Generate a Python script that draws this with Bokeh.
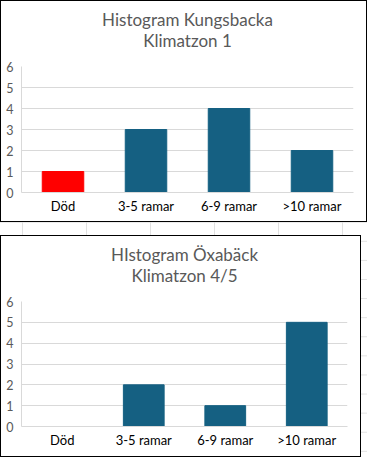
from bokeh.plotting import figure
from bokeh.layouts import column
from bokeh.models import CategoricalAxis, ColumnDataSource, FixedTicker
from bokeh.embed import file_html
from bokeh.resources import INLINE

categories = ["Död", "3-5 ramar", "6-9 ramar", ">10 ramar"]
kungsbacka_values = [1, 3, 4, 2]
oxaback_values = [0, 2, 1, 5]
kungsbacka_colors = ["#FF0000", "#156082", "#156082", "#156082"]
oxaback_colors = ["#156082", "#156082", "#156082", "#156082"]
y_ticks = [0, 1, 2, 3, 4, 5, 6]

FONT = "Lato"
TITLE_COLOR = "#595959"


def title_axis(text, standoff):
    # an axis without ticks whose label serves as one centred title line
    return CategoricalAxis(ticker=FixedTicker(ticks=[]),
                           axis_label=text, axis_label_standoff=standoff,
                           axis_label_text_font=FONT, axis_label_text_font_size="17px",
                           axis_label_text_font_style="normal",
                           axis_label_text_color=TITLE_COLOR,
                           axis_line_color=None, major_tick_line_color=None,
                           minor_tick_line_color=None,
                           major_tick_out=0, major_tick_in=0, minor_tick_out=0,
                           major_label_standoff=0)


def make_chart(line1, line2, values, colors, width, height, left, right, top, bottom):
    p = figure(x_range=categories, y_range=(0, 6), width=width, height=height,
               output_backend="svg", toolbar_location=None,
               min_border_left=left, min_border_right=right, min_border_bottom=bottom,
               min_border_top=top)
    p.title = None
    p.add_layout(title_axis(line2, 16), "above")
    p.add_layout(title_axis(line1, -3), "above")
    src = ColumnDataSource(dict(cat=categories, val=values, col=colors))
    p.vbar(x="cat", top="val", width=0.5, color="col", source=src)
    p.outline_line_color = None
    p.border_fill_color = None
    p.background_fill_color = "white"
    p.xgrid.grid_line_color = None
    p.ygrid.grid_line_color = "#D9D9D9"
    p.yaxis.ticker = FixedTicker(ticks=y_ticks)
    p.yaxis.axis_line_color = "#D9D9D9"
    p.yaxis.major_tick_line_color = None
    p.yaxis.major_tick_out = 0
    p.yaxis.major_tick_in = 0
    p.yaxis.minor_tick_line_color = None
    p.yaxis.major_label_text_color = "#595959"
    p.yaxis.major_label_text_font = FONT
    p.yaxis.major_label_text_font_size = "12.5px"
    p.yaxis.major_label_standoff = 8
    bottom_axis = p.below[0]
    bottom_axis.axis_line_color = "#D9D9D9"
    bottom_axis.major_tick_line_color = None
    bottom_axis.major_tick_out = 0
    bottom_axis.major_tick_in = 0
    bottom_axis.minor_tick_line_color = None
    bottom_axis.major_label_text_color = "#000000"
    bottom_axis.major_label_text_font = FONT
    bottom_axis.major_label_text_font_size = "13px"
    bottom_axis.major_label_standoff = 5
    p.styles = {"background-color": "white", "box-shadow": "inset 0 0 0 1px black"}
    return p


p1 = make_chart("Histogram Kungsbacka", "Klimatzon 1", kungsbacka_values, kungsbacka_colors,
                367, 222, 20, 14, 66, 30)
p2 = make_chart("HIstogram Öxabäck", "Klimatzon 4/5", oxaback_values, oxaback_colors,
                361, 222, 21, 9, 66, 31)

layout = column(p1, p2, spacing=13)
layout.styles = {
    "background-color": "white",
    "background-image": "linear-gradient(to right, #E1E1E1 1px, transparent 1px), linear-gradient(to bottom, #E1E1E1 1px, transparent 1px)",
    "background-size": "64px 19.1px",
    "background-position": "22px 11.7px",
}

open("out.html", "w").write(file_html(layout, INLINE))
